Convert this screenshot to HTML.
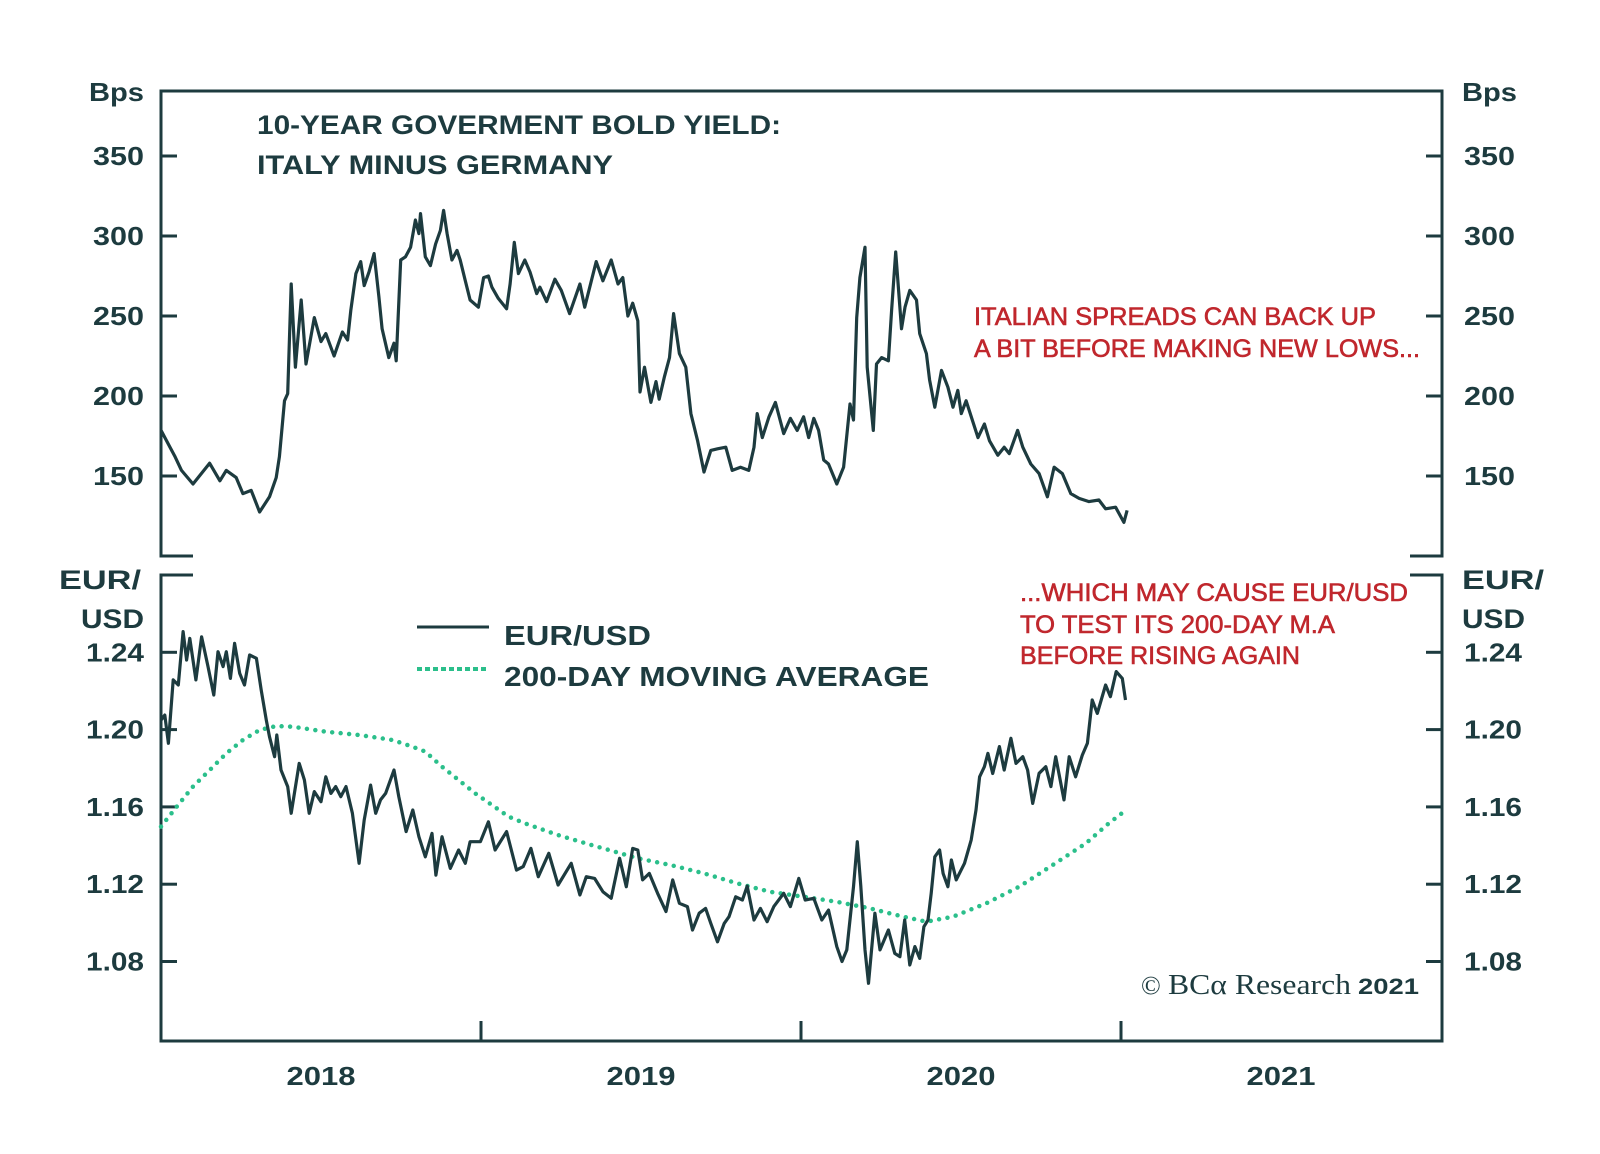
<!DOCTYPE html>
<html><head><meta charset="utf-8"><title>Italy spread vs EUR/USD</title>
<style>
html,body{margin:0;padding:0;background:#fff;}
svg{display:block;}
.ax{font-family:"Liberation Sans",sans-serif;font-weight:bold;fill:#1d3b3f;}
.red{font-family:"Liberation Sans",sans-serif;fill:#c0272d;stroke:#c0272d;stroke-width:0.6;}
</style></head>
<body>
<svg id="chart" width="1600" height="1154" viewBox="0 0 1600 1154" xmlns="http://www.w3.org/2000/svg">
<g id="frame" fill="none" stroke="#1d3b3f" stroke-width="3">
<path d="M193 556 H161 V91 H1442 V556 H1410"/>
<path d="M193 575 H161 V1041 H1442 V575 H1410"/>
</g>
<g id="ticks"></g>
<g id="series"></g>

<text class="ax" x="89" y="101" font-size="26" textLength="55" lengthAdjust="spacingAndGlyphs">Bps</text>
<text class="ax" x="1462" y="101" font-size="26" textLength="55" lengthAdjust="spacingAndGlyphs">Bps</text>
<text class="ax" x="59" y="589" font-size="27" textLength="82" lengthAdjust="spacingAndGlyphs">EUR/</text>
<text class="ax" x="81" y="628" font-size="27" textLength="63" lengthAdjust="spacingAndGlyphs">USD</text>
<text class="ax" x="1462" y="589" font-size="27" textLength="82" lengthAdjust="spacingAndGlyphs">EUR/</text>
<text class="ax" x="1462" y="628" font-size="27" textLength="63" lengthAdjust="spacingAndGlyphs">USD</text>

<text class="ax" x="257" y="134" font-size="27" textLength="524" lengthAdjust="spacingAndGlyphs">10-YEAR GOVERMENT BOLD YIELD:</text>
<text class="ax" x="257" y="174" font-size="27" textLength="356" lengthAdjust="spacingAndGlyphs">ITALY MINUS GERMANY</text>

<text class="red" x="974" y="325" font-size="25" textLength="402" lengthAdjust="spacingAndGlyphs">ITALIAN SPREADS CAN BACK UP</text>
<text class="red" x="974" y="357" font-size="25" textLength="446" lengthAdjust="spacingAndGlyphs">A BIT BEFORE MAKING NEW LOWS...</text>
<text class="red" x="1020" y="601" font-size="25" textLength="388" lengthAdjust="spacingAndGlyphs">...WHICH MAY CAUSE EUR/USD</text>
<text class="red" x="1020" y="633" font-size="25" textLength="315" lengthAdjust="spacingAndGlyphs">TO TEST ITS 200-DAY M.A</text>
<text class="red" x="1020" y="664" font-size="25" textLength="280" lengthAdjust="spacingAndGlyphs">BEFORE RISING AGAIN</text>

<g>
<line x1="417" y1="627" x2="489" y2="627" stroke="#1d3b3f" stroke-width="3"/>
<text class="ax" x="504" y="645" font-size="28" textLength="147" lengthAdjust="spacingAndGlyphs">EUR/USD</text>
<line x1="417" y1="669" x2="489" y2="669" stroke="#2bbf8b" stroke-width="4" stroke-dasharray="5 3"/>
<text class="ax" x="504" y="686" font-size="28" textLength="425" lengthAdjust="spacingAndGlyphs">200-DAY MOVING AVERAGE</text>
</g>

<g>
<text x="1141" y="994" font-size="26" font-family="Liberation Serif, serif" fill="#1d3b3f">©</text>
<text x="1168" y="994" font-size="28" font-family="Liberation Serif, serif" fill="#1d3b3f" textLength="183" lengthAdjust="spacingAndGlyphs">BCα Research</text>
<text class="ax" x="1358" y="994" font-size="22" textLength="61" lengthAdjust="spacingAndGlyphs">2021</text>
</g>
</svg>
<script>
// ---- data ----
const spreadT = [0,0.028,0.044,0.064,0.100,0.152,0.184,0.204,0.235,0.256,0.282,0.308,0.339,0.360,0.370,0.386,0.396,0.407,0.420,0.438,0.453,0.479,0.500,0.515,0.541,0.567,0.583,0.593,0.609,0.624,0.635,0.650,0.666,0.681,0.691,0.712,0.728,0.735,0.749,0.764,0.780,0.795,0.806,0.811,0.826,0.842,0.858,0.873,0.883,0.894,0.909,0.925,0.935,0.951,0.966,0.992,1.008,1.023,1.034,1.054,1.080,1.091,1.104,1.117,1.137,1.153,1.174,1.184,1.205,1.231,1.251,1.277,1.309,1.324,1.360,1.381,1.407,1.428,1.443,1.459,1.474,1.490,1.497,1.511,1.531,1.547,1.557,1.573,1.589,1.602,1.620,1.640,1.656,1.677,1.697,1.718,1.739,1.765,1.785,1.811,1.837,1.853,1.863,1.879,1.900,1.920,1.946,1.967,1.988,2.008,2.024,2.040,2.055,2.071,2.086,2.112,2.133,2.153,2.164,2.174,2.184,2.200,2.207,2.226,2.236,2.252,2.273,2.283,2.296,2.314,2.325,2.340,2.361,2.371,2.392,2.402,2.418,2.439,2.459,2.475,2.490,2.501,2.516,2.553,2.573,2.589,2.615,2.635,2.651,2.677,2.693,2.718,2.744,2.770,2.791,2.817,2.843,2.869,2.900,2.931,2.952,2.983,3.009,3.019];
const spreadV = [178.6,168,162,153.5,145,158,147,153.5,149,139,141,127.5,137,149,162,197,201.5,270,218,260,220,249,234,239,225,240,235,253.5,276.5,284,269,277.5,289,262,242,224,233,222,285,287,293,310,301.5,314,287,281.5,295,303.5,316,301.5,285,291,285,272,260,255.5,274,275,268,261,254.5,270,296,276.5,285,277.5,264,268,259,273,266,251.5,270,255.5,284,272,285,270,274,250,258,247,202.5,218,196,209,198,212,224,251.5,226.5,218,189,172,152.5,166,167,168,153.5,155.5,153.5,168,189,174,187,196,176.5,186,178.5,187,174,186,178.5,160,157.5,145,155.5,195,185,249,274,293,218,178.5,220,224,222,253.5,290,242,255.5,266,260,239,226.5,210,193,216,205.5,193,203.5,189,197,174,182.5,172,163,168,164,178.5,168,157.5,151.5,137,155.5,151.5,139,136,134,135,129.5,130.5,121,128.5];
const fxT = [0,0.012,0.023,0.038,0.054,0.069,0.080,0.090,0.109,0.127,0.147,0.165,0.178,0.194,0.204,0.217,0.230,0.246,0.261,0.277,0.298,0.313,0.329,0.339,0.355,0.362,0.375,0.396,0.407,0.417,0.432,0.448,0.463,0.479,0.500,0.515,0.531,0.546,0.562,0.578,0.598,0.619,0.635,0.655,0.671,0.686,0.702,0.728,0.743,0.766,0.787,0.806,0.826,0.847,0.859,0.878,0.904,0.930,0.951,0.966,0.998,1.023,1.044,1.080,1.111,1.132,1.156,1.179,1.212,1.241,1.282,1.309,1.329,1.355,1.381,1.407,1.433,1.454,1.474,1.490,1.505,1.526,1.552,1.578,1.599,1.620,1.645,1.661,1.682,1.702,1.718,1.739,1.760,1.775,1.796,1.817,1.832,1.853,1.873,1.894,1.915,1.946,1.967,1.993,2.013,2.040,2.065,2.086,2.112,2.128,2.143,2.164,2.176,2.187,2.200,2.211,2.231,2.247,2.273,2.293,2.309,2.324,2.340,2.356,2.371,2.384,2.397,2.407,2.418,2.433,2.444,2.459,2.470,2.485,2.511,2.532,2.547,2.558,2.573,2.584,2.599,2.620,2.635,2.656,2.672,2.693,2.708,2.724,2.744,2.765,2.781,2.796,2.822,2.838,2.858,2.879,2.895,2.910,2.926,2.952,2.967,2.985,3.004,3.014];
const fxV = [1.2049,1.2075,1.1929,1.2257,1.2231,1.2507,1.236,1.2472,1.2257,1.248,1.2326,1.2179,1.2403,1.2326,1.2403,1.2265,1.2446,1.2291,1.2231,1.2386,1.2369,1.2205,1.2049,1.1963,1.186,1.1972,1.1791,1.1705,1.1567,1.167,1.1825,1.1739,1.1567,1.1679,1.1627,1.1756,1.167,1.1705,1.1653,1.1705,1.1567,1.1308,1.1532,1.1713,1.1567,1.1636,1.167,1.1791,1.1653,1.1472,1.1584,1.1446,1.1342,1.1463,1.1247,1.1446,1.1282,1.1377,1.1308,1.142,1.142,1.1523,1.1377,1.1472,1.1273,1.1291,1.1385,1.1239,1.136,1.1196,1.1308,1.1144,1.1239,1.123,1.1161,1.1127,1.1334,1.1187,1.1385,1.1377,1.1222,1.1256,1.1153,1.1058,1.1222,1.1101,1.1084,1.0963,1.105,1.1075,1.0997,1.0902,1.0997,1.1032,1.1135,1.1118,1.119,1.1015,1.1075,1.1006,1.1084,1.1153,1.1084,1.123,1.1118,1.1127,1.1015,1.1066,1.0877,1.08,1.086,1.1187,1.142,1.119,1.086,1.0687,1.105,1.086,1.0963,1.0842,1.0825,1.1015,1.0782,1.0877,1.0816,1.098,1.1015,1.1153,1.1342,1.1377,1.1256,1.1187,1.1325,1.1222,1.1308,1.1429,1.1584,1.1756,1.1808,1.1877,1.1773,1.1912,1.1791,1.1955,1.1825,1.186,1.1791,1.1618,1.1774,1.1808,1.1705,1.186,1.1636,1.186,1.1756,1.1868,1.1929,1.2153,1.2084,1.2231,1.217,1.23,1.2265,1.2153];
const maT = [0,0.049,0.100,0.152,0.204,0.256,0.308,0.360,0.412,0.515,0.619,0.723,0.785,0.826,0.878,0.930,0.982,1.034,1.086,1.137,1.241,1.345,1.490,1.593,1.697,1.801,1.905,2.008,2.112,2.216,2.319,2.392,2.475,2.579,2.682,2.786,2.890,2.962,3.009];
const maV = [1.1498,1.1601,1.1705,1.179,1.1877,1.1946,1.1998,1.2018,1.2015,1.1989,1.1972,1.1946,1.1912,1.1886,1.1808,1.1739,1.167,1.161,1.155,1.1515,1.1454,1.1403,1.1334,1.1299,1.1256,1.1204,1.116,1.1135,1.1109,1.1075,1.1032,1.1006,1.1032,1.1101,1.1187,1.1299,1.1411,1.1515,1.1575];
const topTicks = [350,300,250,200,150];
const topTickLabels = ["350","300","250","200","150"];
const botTicks = [1.24,1.20,1.16,1.12,1.08];
const botTickLabels = ["1.24","1.20","1.16","1.12","1.08"];
const yearTicks = [1,2,3];
const yearLabels = ["2018","2019","2020","2021"];

// ---- scales ----
const xS = d => 161 + d * 320;
const yTop = v => 476 - (v - 150) * 1.6;
const yBot = v => 652.3 + (1.24 - v) * 1932.5;
const NS = "http://www.w3.org/2000/svg";
const ticksG = document.getElementById('ticks');
const seriesG = document.getElementById('series');
const C = '#1d3b3f';
const RX = 1442;

function mk(tag, attrs, parent) {
  const e = document.createElementNS(NS, tag);
  for (const k in attrs) e.setAttribute(k, attrs[k]);
  parent.appendChild(e);
  return e;
}
const LA = 'spacingAndGlyphs';

topTicks.forEach((v, i) => {
  const y = yTop(v);
  const l1 = mk('line', {x1:161, x2:177, y1:y, y2:y, stroke:C, 'stroke-width':3}, ticksG);
  
  
  const l2 = mk('line', {x1:RX-16, x2:RX, y1:y, y2:y, stroke:C, 'stroke-width':3}, ticksG);
  
  
  const t1 = mk('text', {x:144, y:y+9, 'text-anchor':'end', class:'ax', 'font-size':26, textLength:51, lengthAdjust:LA}, ticksG);
  t1.textContent = topTickLabels[i];
  
  
  const t2 = mk('text', {x:1464, y:y+9, class:'ax', 'font-size':26, textLength:51, lengthAdjust:LA}, ticksG);
  t2.textContent = topTickLabels[i];
  
  
});
botTicks.forEach((v, i) => {
  const y = yBot(v);
  const l1 = mk('line', {x1:161, x2:177, y1:y, y2:y, stroke:C, 'stroke-width':3}, ticksG);
  
  
  const l2 = mk('line', {x1:RX-16, x2:RX, y1:y, y2:y, stroke:C, 'stroke-width':3}, ticksG);
  
  
  const t1 = mk('text', {x:144, y:y+9, 'text-anchor':'end', class:'ax', 'font-size':26, textLength:58, lengthAdjust:LA}, ticksG);
  t1.textContent = botTickLabels[i];
  
  
  const t2 = mk('text', {x:1464, y:y+9, class:'ax', 'font-size':26, textLength:58, lengthAdjust:LA}, ticksG);
  t2.textContent = botTickLabels[i];
  
  
});
yearTicks.forEach(d => {
  const x = xS(d);
  const l = mk('line', {x1:x, x2:x, y1:1021, y2:1041, stroke:C, 'stroke-width':3}, ticksG);
  
  
});
yearLabels.forEach((lab, i) => {
  const t = mk('text', {x:xS(i + 0.5), y:1085, 'text-anchor':'middle', class:'ax', 'font-size':26, textLength:69, lengthAdjust:LA}, ticksG);
  t.textContent = lab;
  
  
});

function pathD(ts, vs, ys) {
  return ts.map((t, i) => (i ? 'L' : 'M') + xS(t).toFixed(1) + ' ' + ys(vs[i]).toFixed(1)).join(' ');
}
const ma = mk('path', {d:pathD(maT, maV, yBot), fill:'none', stroke:'#2bbf8b', 'stroke-width':4.5, 'stroke-linecap':'round', 'stroke-dasharray':'0 8.5'}, seriesG);


const sp = mk('path', {d:pathD(spreadT, spreadV, yTop), fill:'none', stroke:C, 'stroke-width':3.2, 'stroke-linejoin':'round'}, seriesG);


const fx = mk('path', {d:pathD(fxT, fxV, yBot), fill:'none', stroke:C, 'stroke-width':3.2, 'stroke-linejoin':'round'}, seriesG);


</script>
</body></html>
